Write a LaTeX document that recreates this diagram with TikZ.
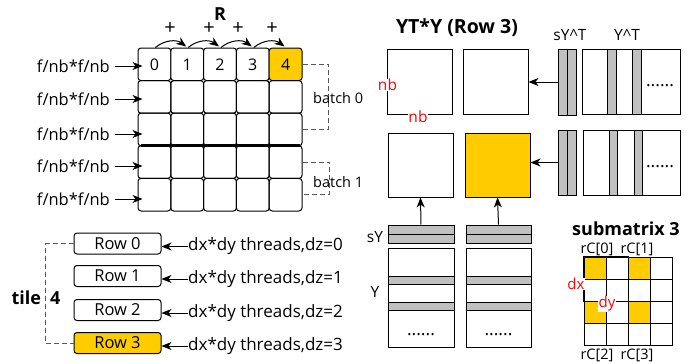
\documentclass[tikz,border=0pt]{standalone}
\usepackage{fontspec}
\setmainfont{Open Sans}
\usetikzlibrary{arrows.meta}
\definecolor{gold}{RGB}{255,204,0}
\definecolor{bargray}{RGB}{192,192,192}
\definecolor{dashgray}{RGB}{90,90,90}
\newcommand{\fsz}[1]{\fontsize{#1}{#1}\selectfont}
\begin{document}
\begin{tikzpicture}[x=1pt,y=-1pt,
  txt/.style={font=\fsz{16.5}, inner sep=0pt},
  small/.style={font=\fsz{15.5}, inner sep=0pt},
  dots/.style={font=\fsz{17.5}, inner sep=0pt},
  bold/.style={font=\fsz{18}\bfseries, inner sep=0pt},
  cell/.style={draw, rounded corners=3pt, minimum width=32.8pt, minimum height=32.6pt,
    inner sep=0pt, line width=1pt, font=\fsz{16}},
  rowbox/.style={draw, rounded corners=3pt, minimum width=87pt, minimum height=21pt,
    inner sep=0pt, line width=1pt, font=\fsz{16.5}},
  arr/.style={-{Stealth[length=10pt,width=8pt,inset=3pt]}, line width=1pt},
  bracket/.style={draw=dashgray, dash pattern=on 5pt off 3pt, line width=1pt},
  plainbox/.style={draw, line width=1pt, inner sep=0pt},
  bar/.style={plainbox, fill=bargray},
  subcell/.style={draw, line width=1pt, inner sep=0pt, minimum size=22pt},
  redlbl/.style={text=red, fill=white, inner sep=0.5pt, font=\fsz{15.5}}]
\useasboundingbox (0,0) rectangle (691,364);

% ---------- R block: 5x5 grid of rounded cells ----------
\node[bold] (R) at (220,14) {R};
\foreach \c/\fc in {0/white,1/white,2/white,3/white,4/gold}
  \node[cell, fill=\fc] (c0-\c) at ({154.4+32.8*\c},64.3) {\c};
\foreach \r in {1,...,4}
  \foreach \c in {0,...,4}
    \node[cell] (c\r-\c) at ({154.4+32.8*\c},{64.3+32.6*\r}) {};
% separator between the two batches
\draw[line width=3pt] ([xshift=3pt]c3-0.north west) -- ([xshift=-3pt]c3-4.north east);

% accumulation arcs along the first row
\foreach \a/\b/\px in {0/1/170,1/2/209,2/3/238,3/4/272} {
  \draw[arr] ([xshift=1pt]c0-\a.north) to[bend left=38] ([xshift=-1pt,yshift=1pt]c0-\b.north);
  \node[font=\fsz{20}, inner sep=0pt] (plus\a) at (\px,29) {+};
}

% row labels
\foreach \r/\y in {0/66,1/99,2/134,3/166,4/199} {
  \node[txt, anchor=east] (lab\r) at (110,\y) {f/nb*f/nb};
  \draw[arr] ([xshift=5pt]lab\r.east) -- ([xshift=5pt]lab\r.east -| c\r-0.west);
}

% batch brackets
\draw[bracket] (c0-4.east) -- ++(26,0) |- (c2-4.east);
\node[font=\fsz{14.5}, inner sep=0pt, anchor=west] (batch0) at (313,98) {batch 0};
\draw[bracket] (c3-4.east) -- ++(27,0) |- (c4-4.east);
\node[font=\fsz{14.5}, inner sep=0pt, anchor=west] (batch1) at (313,182) {batch 1};

% ---------- tile rows ----------
\foreach \i/\y/\fc in {0/243.5/white,1/276/white,2/310/white,3/343/gold} {
  \node[rowbox, fill=\fc] (row\i) at (117.5,\y) {Row \i};
  \node[font=\fsz{17}, inner sep=0pt, anchor=west] (thr\i) at (188,\y+3) {dx*dy threads,dz=\i};
  \draw[arr] (thr\i.west) -- (thr\i.west -| row\i.east);
}
\draw[bracket] (row0.west) -- ++(-28,0) |- (row3.west);
\node[bold] (tile) at (36,298) {tile\hspace{9pt}4};

% ---------- YT*Y blocks ----------
\node[bold, font=\fsz{19.5}\bfseries] (title) at (457,28) {YT*Y (Row 3)};
\node[plainbox, minimum width=65pt, minimum height=65pt] (A1) at (419.5,81.5) {};
\node[plainbox, minimum width=65pt, minimum height=65pt] (A2) at (495.5,81.5) {};
\node[plainbox, minimum width=65pt, minimum height=64pt] (B1) at (420.5,165) {};
\node[plainbox, fill=gold, minimum width=65pt, minimum height=64pt] (B2) at (497.5,165) {};
\node[redlbl] (nbv) at (387.5,85) {nb};
\node[redlbl] (nbh) at (418,117) {nb};

% sY^T column strips
\node[bar, minimum width=9pt, minimum height=66pt] (sTa0) at (562.5,82) {};
\node[bar, minimum width=9pt, minimum height=66pt] (sTb0) at (571.5,82) {};
\node[bar, minimum width=9pt, minimum height=65pt] (sTa1) at (562.5,162.5) {};
\node[bar, minimum width=9pt, minimum height=65pt] (sTb1) at (571.5,162.5) {};
\node[small] (sYTlab) at (570,35) {sY\textasciicircum T};
\node[small] (YTlab) at (627,35) {Y\textasciicircum T};

% Y^T panels
\node[plainbox, minimum width=98pt, minimum height=65pt] (YT0) at (631,81.5) {};
\node[bar, minimum width=9pt, minimum height=65pt] (YT0a) at (611.5,81.5) {};
\node[bar, minimum width=9pt, minimum height=65pt] (YT0b) at (636.5,81.5) {};
\node[dots] (YT0d) at (660,86) {......};
\node[plainbox, minimum width=97pt, minimum height=65pt] (YT1) at (631.5,162.5) {};
\node[bar, minimum width=8pt, minimum height=65pt] (YT1a) at (613,162.5) {};
\node[bar, minimum width=8pt, minimum height=65pt] (YT1b) at (638,162.5) {};
\node[dots] (YT1d) at (660,167) {......};

\draw[arr] (sTa0.west) -- (sTa0.west -| A2.east);
\draw[arr] (sTa1.west) -- (sTa1.west -| B2.east);

% sY row strips and Y panels
\foreach \k/\x/\w in {0/421/66,1/498.5/65} {
  \node[bar, minimum width=\w pt, minimum height=9pt] (sYa\k) at (\x,229.5) {};
  \node[bar, minimum width=\w pt, minimum height=9pt] (sYb\k) at (\x,238.5) {};
  \node[plainbox, minimum width=\w pt, minimum height=99pt] (Y\k) at (\x,297.5) {};
  \node[bar, minimum width=\w pt, minimum height=8pt] (Ya\k) at (\x,280) {};
  \node[bar, minimum width=\w pt, minimum height=8pt] (Yb\k) at (\x,306) {};
  \node[dots] (Yd\k) at (\x,335) {......};
}
\draw[arr] (sYa0.north) -- (B1.south);
\draw[arr] (sYa1.north) -- (B2.south);
\node[font=\fsz{15.5}, inner sep=0pt] (sYlab) at (375,237) {sY};
\node[font=\fsz{15.5}, inner sep=0pt] (Ylab) at (375,292) {Y};

% ---------- submatrix ----------
\node[bold] (subt) at (626,229) {submatrix 3};
\foreach \r in {0,...,3}
  \foreach \c in {0,...,3} {
    \pgfmathparse{int(mod(\r,2)+mod(\c,2))}\let\k\pgfmathresult
    \ifnum\k=0 \def\fc{gold}\else\def\fc{white}\fi
    \node[subcell, fill=\fc] (s\r\c) at ({595+22*\c},{268+22*\r}) {};
  }
\draw[line width=1.8pt] (s00.north west) rectangle (s11.south east);
\node[font=\fsz{14.5}, inner sep=0pt] (rc0) at (597,249) {rC[0]};
\node[font=\fsz{14.5}, inner sep=0pt] (rc1) at (637,249) {rC[1]};
\node[font=\fsz{14.5}, inner sep=0pt] (rc2) at (597,355) {rC[2]};
\node[font=\fsz{14.5}, inner sep=0pt] (rc3) at (637,355) {rC[3]};
\node[redlbl, font=\fsz{15}] (dx) at (576,284) {dx};
\node[redlbl, font=\fsz{15}] (dy) at (607,304) {dy};
\end{tikzpicture}
\end{document}
